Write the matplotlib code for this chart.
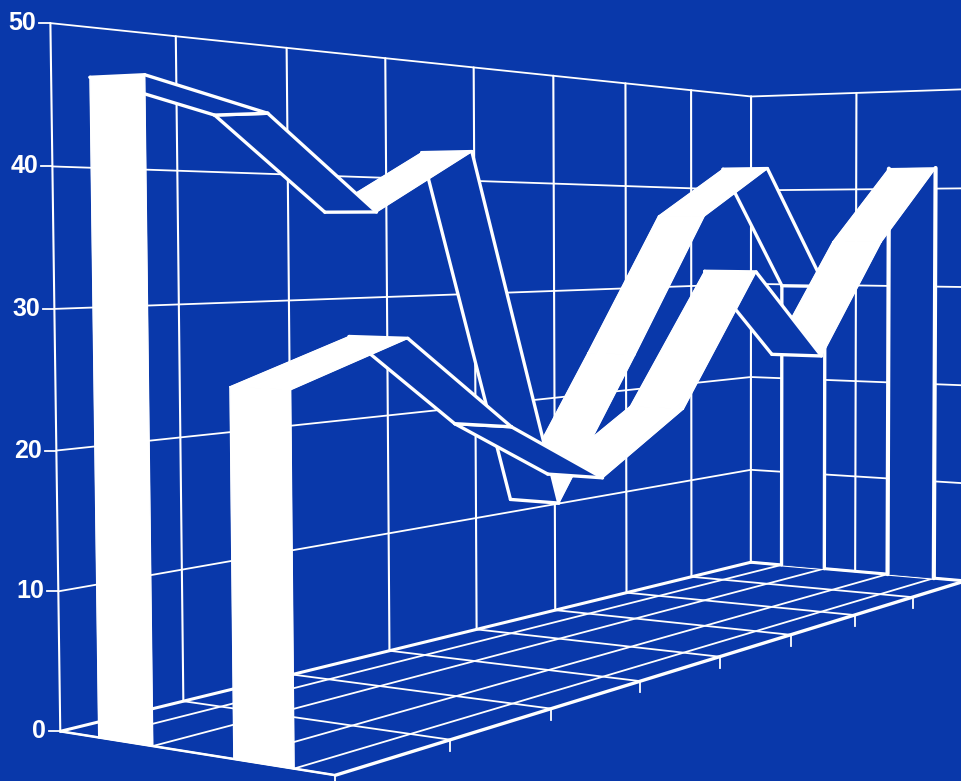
import numpy as np
import matplotlib
matplotlib.use("Agg")
import matplotlib.pyplot as plt

BLUE = "#0938aa"
WHITE = "#ffffff"

# values, one per x grid position (0..8)
back_values = [46.1, 44.05, 37.0, 42.05, 11.9, 24.3, 37.05, 41.9, 29.85]
front_values = [25.1, 28.0, 20.9, 15.95, 20.65, 32.0, 24.0, 34.6, 42.1]
# depth slots of the two ribbons on the floor (0 = back wall, 1 = front edge)
back_depth = (0.15, 0.355)
front_depth = (0.65, 0.86)

z_ticks = [0, 10, 20, 30, 40, 50]
x_cells = 8
floor_depths = [0, 0.15, 0.355, 0.65, 0.86, 1]
right_wall_depths = [0.5]

# camera calibration: room corners and their place in the picture
cal_world = np.array([
    [0, 0, 0], [0, 0, 50], [8, 0, 0], [8, 0, 50], [0, 1, 0], [8, 1, 0], [8, 1, 50],
    [4, 0, 0], [4, 1, 0], [2, 0, 0], [6, 1, 0],
], dtype=float)
cal_screen = np.array([
    [62, 730], [50, 24], [752, 562], [752, 97], [335, 775], [962, 582], [967, 88],
    [476, 628], [722, 657], [289, 676], [857, 615],
], dtype=float)


def fit_camera(world, screen):
    rows = []
    for (x, y, z), (u, v) in zip(world, screen):
        rows.append([x, y, z, 1, 0, 0, 0, 0, -u*x, -u*y, -u*z, -u])
        rows.append([0, 0, 0, 0, x, y, z, 1, -v*x, -v*y, -v*z, -v])
    _, _, vt = np.linalg.svd(np.array(rows))
    return vt[-1].reshape(3, 4)


cam = fit_camera(cal_world, cal_screen)


def proj(x, y, z):
    p = cam @ np.array([x, y, z, 1.0])
    return p[0]/p[2], p[1]/p[2]


fig = plt.figure(figsize=(9.62, 7.81), dpi=100, facecolor=BLUE)
ax = fig.add_axes([0, 0, 1, 1])
ax.set_xlim(0, 962)
ax.set_ylim(781, 0)
ax.axis("off")


def line(a, b, lw=1.4, zo=2):
    pa, pb = proj(*a), proj(*b)
    ax.plot([pa[0], pb[0]], [pa[1], pb[1]], color=WHITE, lw=lw, solid_capstyle="round", zorder=zo)


def quad(pts, face, edges=None, lw=2.2):
    xy = [proj(*p) for p in pts]
    ax.fill([q[0] for q in xy], [q[1] for q in xy], facecolor=face, edgecolor=face, lw=0.6, zorder=3)
    for i, j in (edges or []):
        ax.plot([xy[i][0], xy[j][0]], [xy[i][1], xy[j][1]], color=WHITE, lw=lw,
                solid_capstyle="round", zorder=3)


# back and right walls
for x in range(x_cells + 1):
    line((x, 0, 0), (x, 0, 50), lw=1.5)
for y in right_wall_depths:
    line((8, y, 0), (8, y, 50), lw=1.5)
for z in z_ticks[1:]:
    line((0, 0, z), (8, 0, z), lw=1.3)
    line((8, 0, z), (8, 1, z), lw=1.3)

# floor
for x in range(x_cells + 1):
    line((x, 0, 0), (x, 1, 0), lw=1.3)
for y in floor_depths[1:-1]:
    line((0, y, 0), (8, y, 0), lw=1.3)
line((0, 0, 0), (8, 0, 0), lw=2.2)
line((0, 1, 0), (8, 1, 0), lw=2.4)
line((0, 0, 0), (0, 1, 0), lw=1.8)
line((8, 0, 0), (8, 1, 0), lw=2.2)

# ticks under the front edge
for x in range(x_cells):
    u, v = proj(x, 1, 0)
    ax.plot([u, u], [v, v + 11], color=WHITE, lw=1.3, zorder=2)

# value labels with small tick stubs
for z in z_ticks:
    u, v = proj(0, 0, z)
    ax.plot([u - 11, u], [v, v], color=WHITE, lw=1.3, zorder=2)
    ax.text(u - 14, v, str(z), color=WHITE, fontsize=18, fontweight="bold",
            family="Liberation Sans", ha="right", va="center", zorder=5)


def ribbon(values, depth, end_lw):
    y1, y2 = depth
    last = len(values) - 1
    # far end stands on the right wall
    quad([(last, y1, 0), (last, y2, 0), (last, y2, values[-1]), (last, y1, values[-1])],
         BLUE, edges=[(0, 3), (1, 2)], lw=end_lw)
    # painter's order: far segments first
    for i in range(last - 1, -1, -1):
        a, b = values[i], values[i + 1]
        pts = [(i, y1, a), (i, y2, a), (i + 1, y2, b), (i + 1, y1, b)]
        if b > a:
            quad(pts, WHITE, edges=[(0, 1), (1, 2), (2, 3), (3, 0)], lw=1.0)
        else:
            quad(pts, BLUE, edges=[(0, 1), (1, 2), (2, 3), (3, 0)], lw=2.4)
    # near end is the solid white column
    quad([(0, y1, 0), (0, y2, 0), (0, y2, values[0]), (0, y1, values[0])],
         WHITE, edges=[(0, 1), (1, 2), (2, 3), (3, 0)], lw=1.0)


ribbon(back_values, back_depth, 2.4)
ribbon(front_values, front_depth, 3.0)

fig.savefig("out.png", dpi=100, facecolor=BLUE)
